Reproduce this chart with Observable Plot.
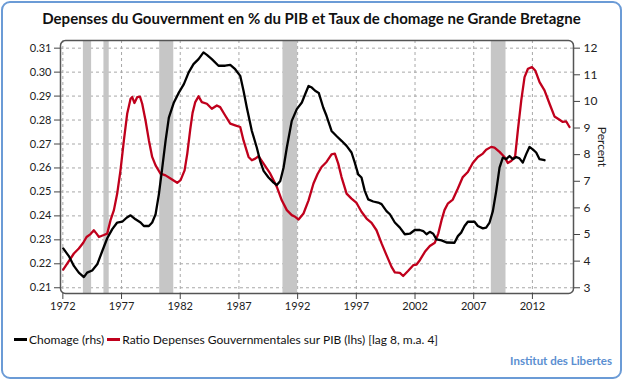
<!DOCTYPE html>
<html>
<head>
<meta charset="utf-8">
<script src="https://cdn.jsdelivr.net/npm/d3@7"></script>
<script src="https://cdn.jsdelivr.net/npm/@observablehq/plot@0.6"></script>
<style>
  body { margin: 0; background: #fff; font-family: Lato, "Open Sans", sans-serif; }
  #wrap { position: relative; width: 623px; height: 381px; overflow: hidden; background: #fff; }
  #border { position: absolute; left: 1px; top: 1px; width: 621px; height: 378px; box-sizing: border-box;
            border: 2px solid #6b9bd6; border-radius: 9px; }
  #title { position: absolute; top: 9px; left: 0; width: 623px; text-align: center; font-weight: bold;
           font-size: 15px; color: #111; white-space: nowrap; }
  #chart { position: absolute; left: 0; top: 30px; }
  #legend { position: absolute; left: 14px; top: 332px; font-size: 12px; color: #111; white-space: nowrap; }
  #legend .sw { display: inline-block; width: 13px; height: 3px; vertical-align: middle; margin-right: 2px; position: relative; top: -1px; }
  #legend .item { margin-right: 3px; }
  #credit { position: absolute; right: 11px; top: 354px; font-weight: bold; color: #5b8fd1; font-size: 11.5px; }
</style>
</head>
<body>
<div id="wrap">
  <div id="border"></div>
  <div id="title"></div>
  <div id="chart"></div>
  <div id="legend"></div>
  <div id="credit"></div>
</div>
<script>
// ---- Data ----
const titleText = "Depenses du Gouvernment en % du PIB et Taux de chomage ne Grande Bretagne";
const seriesNames = ["Chomage (rhs)", "Ratio Depenses Gouvernmentales sur PIB (lhs) [lag 8, m.a. 4]"];
const creditText = "Institut des Libertes";
const axisRightLabel = "Percent";

const xTicks = [1972, 1977, 1982, 1987, 1992, 1997, 2002, 2007, 2012];
const leftTicks = [0.21, 0.22, 0.23, 0.24, 0.25, 0.26, 0.27, 0.28, 0.29, 0.30, 0.31];
const rightTicks = [3, 4, 5, 6, 7, 8, 9, 10, 11, 12];

const recessionStart = [1973.75, 1975.5, 1980.25, 1990.75, 2008.5];
const recessionEnd   = [1974.45, 1975.95, 1981.45, 1992.0, 2009.75];

// Ratio Depenses Gouvernementales sur PIB (left axis)
const ratioYears = [1972.03,1972.94,1973.36,1973.74,1974.02,1974.36,1974.64,1974.87,1975.07,1975.49,1975.78,
  1976.06,1976.35,1976.63,1976.91,1977.20,1977.48,1977.77,1977.91,1978.10,1978.34,1978.57,1978.76,1979.04,
  1979.33,1979.61,1979.90,1980.32,1980.75,1981.17,1981.74,1982.03,1982.37,1982.60,1982.85,1983.05,1983.28,
  1983.56,1983.84,1984.27,1984.69,1985.12,1985.40,1985.83,1986.26,1986.68,1987.11,1987.39,1987.82,1988.10,
  1988.39,1988.67,1989.10,1989.67,1990.23,1990.65,1991.08,1991.50,1991.79,1992.08,1992.50,1992.93,1993.35,
  1993.70,1994.04,1994.46,1994.89,1995.17,1995.46,1995.74,1996.17,1996.59,1997.02,1997.44,1997.87,1998.30,
  1998.72,1999.15,1999.57,2000.00,2000.28,2000.71,2000.99,2001.42,2001.85,2002.13,2002.41,2002.84,2003.26,
  2003.69,2003.98,2004.26,2004.51,2004.79,2005.22,2005.65,2006.07,2006.50,2006.92,2007.35,2007.78,2008.06,
  2008.49,2008.77,2009.20,2009.62,2009.90,2010.19,2010.53,2010.76,2011.05,2011.33,2011.62,2011.96,2012.24,
  2012.61,2013.03,2013.46,2013.88,2014.31,2014.59,2014.88,2015.16];
const ratioValues = [0.2176,0.2243,0.2264,0.2288,0.2312,0.2324,0.2340,0.2326,0.2312,0.2320,0.2326,
  0.2382,0.2424,0.2493,0.2590,0.2715,0.2826,0.2889,0.2896,0.2871,0.2896,0.2898,0.2868,0.2799,
  0.2715,0.2646,0.2611,0.2576,0.2569,0.2556,0.2538,0.2549,0.2590,0.2660,0.2760,0.2830,0.2875,
  0.2899,0.2875,0.2868,0.2847,0.2861,0.2854,0.2819,0.2785,0.2778,0.2771,0.2715,0.2646,0.2632,
  0.2639,0.2649,0.2618,0.2576,0.2521,0.2465,0.2424,0.2403,0.2396,0.2385,0.2410,0.2465,0.2535,
  0.2575,0.2604,0.2625,0.2657,0.2660,0.2618,0.2562,0.2493,0.2472,0.2454,0.2417,0.2389,0.2371,
  0.2340,0.2285,0.2236,0.2187,0.2164,0.2162,0.2149,0.2171,0.2194,0.2197,0.2215,0.2250,0.2274,
  0.2288,0.2326,0.2382,0.2424,0.2451,0.2468,0.2514,0.2562,0.2583,0.2621,0.2646,0.2660,0.2676,
  0.2688,0.2685,0.2667,0.2646,0.2621,0.2629,0.2649,0.2757,0.2882,0.2979,0.3014,0.3021,0.3007,
  0.2958,0.2924,0.2868,0.2815,0.2801,0.2792,0.2794,0.2771];

// Chomage (right axis, percent)
const chomageYears = [1972.03,1972.51,1972.94,1973.36,1973.79,1974.07,1974.50,1974.93,1975.36,1975.78,
  1976.21,1976.63,1977.06,1977.43,1977.77,1978.19,1978.62,1978.90,1979.33,1979.61,1979.90,1980.18,1980.47,
  1980.75,1981.03,1981.46,1981.88,1982.31,1982.72,1983.13,1983.56,1983.98,1984.27,1984.69,1985.26,1985.83,
  1986.26,1986.68,1987.11,1987.39,1987.67,1988.10,1988.52,1988.81,1989.10,1989.52,1989.95,1990.23,1990.52,
  1990.80,1991.08,1991.50,1991.93,1992.36,1992.64,1992.93,1993.21,1993.49,1993.80,1994.18,1994.46,1994.89,
  1995.31,1995.74,1996.17,1996.59,1996.87,1997.16,1997.44,1997.72,1998.01,1998.44,1998.86,1999.15,1999.57,
  1999.86,2000.28,2000.71,2001.13,2001.56,2001.98,2002.41,2002.70,2002.98,2003.26,2003.55,2003.83,2004.26,
  2004.68,2005.36,2005.65,2005.93,2006.22,2006.50,2007.07,2007.35,2007.78,2008.06,2008.35,2008.63,2008.92,
  2009.20,2009.48,2009.77,2010.05,2010.33,2010.62,2010.90,2011.18,2011.47,2011.75,2012.03,2012.32,2012.61,
  2013.03];
const chomageValues = [4.48,4.19,3.82,3.57,3.40,3.57,3.65,3.88,4.38,4.86,
  5.20,5.45,5.48,5.63,5.72,5.57,5.45,5.32,5.32,5.45,5.76,6.51,7.51,
  8.52,9.39,9.96,10.33,10.65,11.09,11.40,11.59,11.84,11.75,11.59,11.34,11.34,
  11.37,11.21,10.96,10.40,9.77,8.89,8.27,7.76,7.39,7.14,6.95,6.86,7.01,
  7.51,8.27,9.27,9.71,9.96,10.27,10.58,10.52,10.40,10.32,9.77,9.46,8.89,
  8.70,8.52,8.33,8.08,7.70,7.26,7.14,6.64,6.32,6.24,6.20,6.14,5.88,
  5.76,5.45,5.26,5.01,5.03,5.17,5.17,5.13,5.01,5.10,5.03,4.82,4.78,
  4.70,4.69,4.94,5.07,5.32,5.48,5.48,5.32,5.23,5.26,5.45,5.88,6.64,
  7.51,7.89,7.83,7.95,7.83,7.91,7.86,7.70,8.02,8.29,8.20,8.08,7.83,
  7.79];

// ---- Build tables ----
const ratioData = ratioYears.map((x, i) => ({year: x, value: ratioValues[i]}));
const chomageData = chomageYears.map((x, i) => ({year: x, value: chomageValues[i]}));
const recessions = recessionStart.map((s, i) => ({start: s, end: recessionEnd[i]}));

// right axis (3..12) is aligned with left axis (0.21..0.31)
const toLeft = v => 0.21 + (v - 3) * 0.1 / 9;
const fromLeft = y => 3 + (y - 0.21) * 9 / 0.1;

const RED = "#c0001c";

const chart = Plot.plot({
  width: 623,
  height: 290,
  marginTop: 10,
  marginBottom: 27,
  marginLeft: 60,
  marginRight: 50,
  style: {fontFamily: "Lato, 'Open Sans', sans-serif", fontSize: "11px", color: "#222", background: "transparent", overflow: "visible"},
  x: {domain: [1971.8, 2015.5]},
  y: {domain: [0.2076, 0.3132]},
  marks: [
    Plot.gridY(leftTicks, {stroke: "#a8a8a8", strokeOpacity: 1, strokeDasharray: "3,3", strokeWidth: 1}),
    Plot.gridX(xTicks, {stroke: "#a8a8a8", strokeOpacity: 1, strokeDasharray: "3,3", strokeWidth: 1}),
    Plot.rect(recessions, {x1: "start", x2: "end", fill: "#c6c6c6"}),
    Plot.line(ratioData, {x: "year", y: "value", stroke: RED, strokeWidth: 2.3}),
    Plot.line(chomageData, {x: "year", y: d => toLeft(d.value), stroke: "#000", strokeWidth: 2.3}),
    Plot.frame({rx: 5, ry: 5, stroke: "#555", strokeWidth: 1.5}),
    Plot.axisY(leftTicks, {anchor: "left", tickFormat: d => d.toFixed(2), tickSize: 6, tickPadding: 3, label: null, stroke: "#444"}),
    Plot.axisY(rightTicks.map(toLeft), {anchor: "right", tickFormat: d => String(Math.round(fromLeft(d))), tickSize: 6, tickPadding: 4, label: null, stroke: "#444", fontSize: 12}),
    Plot.axisX(xTicks, {tickFormat: d => String(d), tickSize: 6, tickPadding: 3, label: null, stroke: "#444"}),
    Plot.text([axisRightLabel], {frameAnchor: "right", dx: 28, rotate: 90, fontSize: 12, fill: "#222"})
  ]
});
document.getElementById("chart").appendChild(chart);

document.getElementById("title").textContent = titleText;
document.getElementById("credit").textContent = creditText;
const legend = document.getElementById("legend");
[["#000", seriesNames[0]], [RED, seriesNames[1]]].forEach(([c, name]) => {
  const item = document.createElement("span");
  item.className = "item";
  const sw = document.createElement("span");
  sw.className = "sw";
  sw.style.background = c;
  item.appendChild(sw);
  item.appendChild(document.createTextNode(name));
  legend.appendChild(item);
});
</script>
</body>
</html>
